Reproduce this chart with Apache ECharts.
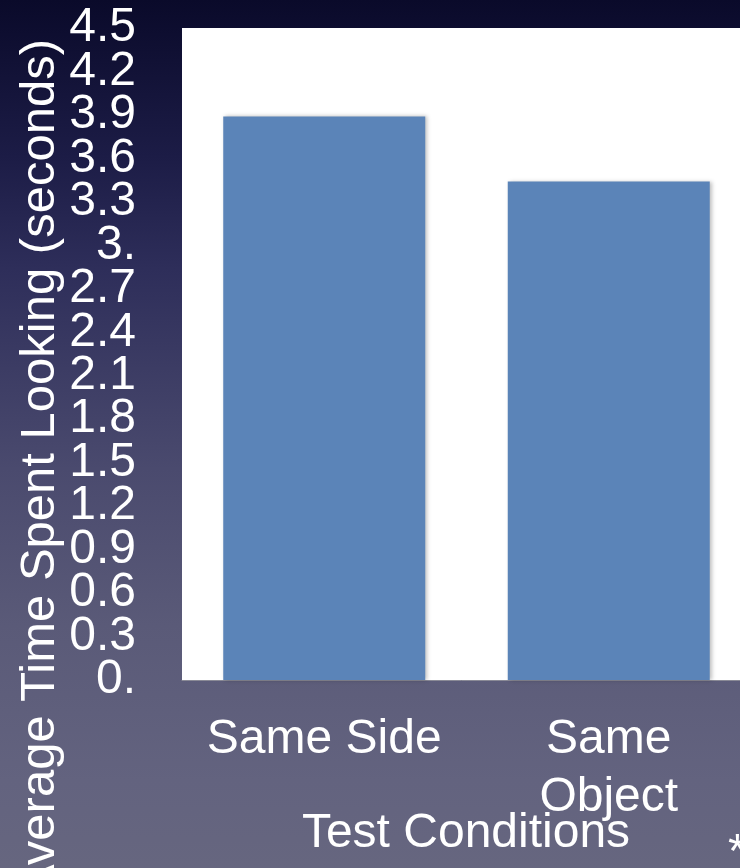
<!DOCTYPE html>
<html>
<head>
<meta charset="utf-8">
<script src="https://cdn.jsdelivr.net/npm/echarts@6/dist/echarts.min.js"></script>
<style>
html,body{margin:0;padding:0;width:740px;height:868px;overflow:hidden;
background:linear-gradient(to bottom,#0a0a2a 0%,#1c1c46 18%,#2e2e5a 31%,#4a4a6e 54%,#5a5a78 72%,#63637f 90%,#66667f 100%);}
#chart{width:740px;height:868px;}
</style>
</head>
<body>
<div id="chart"></div>
<script>
var categories = ["Same Side", "Same\nObject"];
var values = [3.89, 3.44];
var yTickLabels = ["0.","0.3","0.6","0.9","1.2","1.5","1.8","2.1","2.4","2.7","3.","3.3","3.6","3.9","4.2","4.5"];
var yTitle = "Average Time Spent Looking (seconds)";
var xTitle = "Test Conditions";

var chart = echarts.init(document.getElementById('chart'));
var font = '"Liberation Sans", Arial, Helvetica, sans-serif';
function yLabelStyle(extra) {
  var s = {color: '#ffffff', fontSize: 48, fontFamily: font, lineHeight: 38, margin: 46, hideOverlap: false,
           formatter: function (v) { return yTickLabels[Math.round(v / 0.3)]; }};
  for (var k in extra) s[k] = extra[k];
  return s;
}
chart.setOption({
  backgroundColor: 'transparent',
  animation: false,
  grid: {left: 182, top: 28, height: 652, width: 569, show: true, backgroundColor: '#ffffff', borderWidth: 0,
         containLabel: false, outerBoundsMode: 'none'},
  xAxis: {
    type: 'category',
    data: categories,
    axisTick: {show: false},
    axisLine: {show: true, lineStyle: {color: '#8a8a96', width: 1}},
    axisLabel: {color: '#ffffff', fontSize: 48, fontFamily: font, lineHeight: 58, margin: 31, interval: 0,
                showMinLabel: true, showMaxLabel: true}
  },
  yAxis: [{
    type: 'value',
    min: 0, max: 4.5, interval: 0.3,
    axisLine: {show: false},
    axisTick: {show: false},
    splitLine: {show: false},
    axisLabel: yLabelStyle({showMinLabel: true, showMaxLabel: true})
  }, {
    type: 'value',
    position: 'left',
    offset: 0,
    min: 0, max: 4.5, interval: 0.3,
    axisLine: {show: false},
    axisTick: {show: false},
    splitLine: {show: false},
    axisLabel: yLabelStyle({showMinLabel: false, showMaxLabel: false,
      formatter: function (v) {
        var i = Math.round(v / 0.3);
        return (i === 1 || i === yTickLabels.length - 2) ? yTickLabels[i] : '';
      }})
  }],
  series: [{
    type: 'bar',
    yAxisIndex: 0,
    data: values,
    barCategoryGap: '29%',
    itemStyle: {color: '#5b84b8', shadowBlur: 4, shadowColor: 'rgba(0,0,0,0.25)', shadowOffsetX: 2, shadowOffsetY: 0}
  }],
  graphic: [
    {type: 'text', x: 40, y: 468, rotation: Math.PI / 2,
     style: {text: yTitle, fill: '#ffffff', fontSize: 49, fontFamily: font, textAlign: 'center', textVerticalAlign: 'middle'}},
    {type: 'text', x: 466, y: 834,
     style: {text: xTitle, fill: '#ffffff', fontSize: 48, fontFamily: font, textAlign: 'center', textVerticalAlign: 'middle'}},
    {type: 'text', x: 728, y: 830,
     style: {text: '*', fill: '#ffffff', fontSize: 48, fontFamily: font, textAlign: 'left', textVerticalAlign: 'top'}}
  ]
});
</script>
</body>
</html>
